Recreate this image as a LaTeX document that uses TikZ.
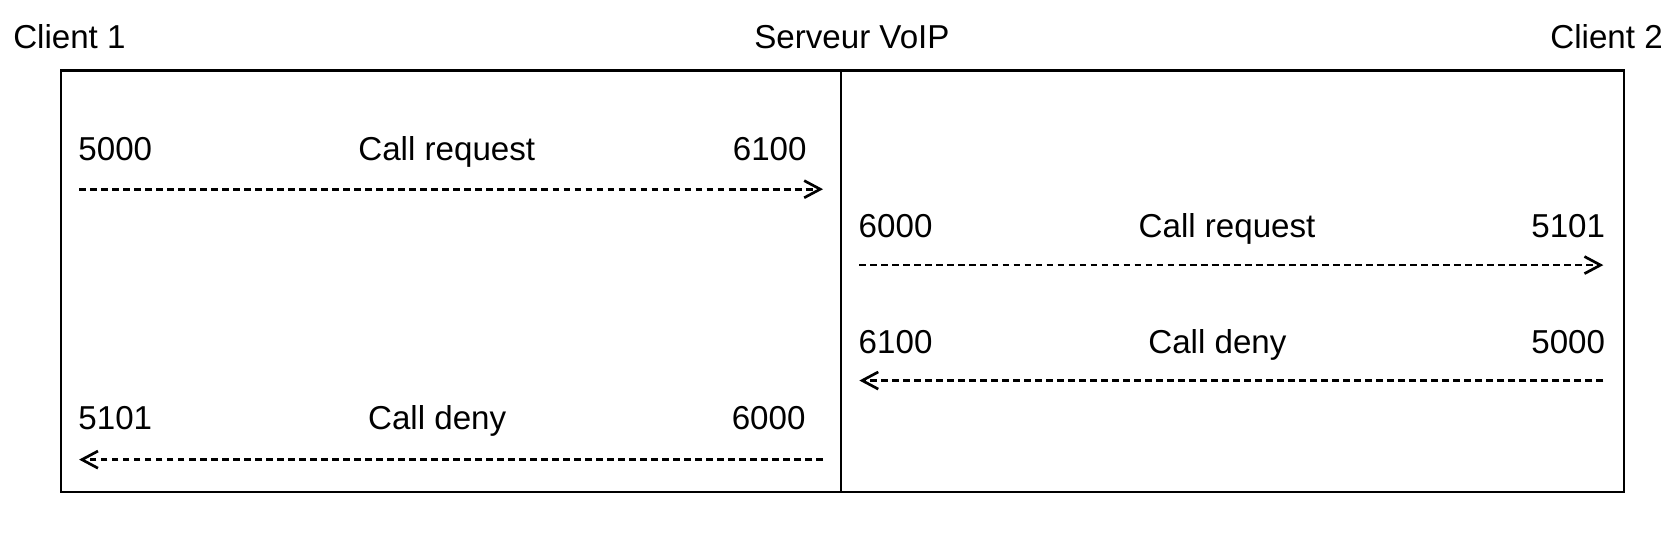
\documentclass[tikz,border=0pt]{standalone}
\usepackage{fontspec}
\setmainfont{Liberation Sans}
\usetikzlibrary{arrows.meta}
\begin{document}
\begin{tikzpicture}[x=0.5pt,y=-0.5pt,
  lbl/.style={inner sep=0pt,font=\fontsize{15.5}{18}\selectfont},
  frame/.style={line width=1pt,draw=black},
  msg/.style={line width=1.25pt,dash pattern=on 3.2pt off 1.95pt,
    -{Straight Barb[length=7.5pt,width=8pt,line width=1.25pt]}}]
\useasboundingbox (0,0) rectangle (1568,498.6);
% titles
\node[lbl,anchor=base west] (c1) at (12,45) {Client 1};
\node[lbl,anchor=base] (srv) at (797,45) {Serveur VoIP};
\node[lbl,anchor=base east] (c2) at (1556,45) {Client 2};
% frame
\draw[frame] (57,66) rectangle (1519,460);
\draw[frame] (787,66) -- (787,460);
% row 1
\node[lbl,anchor=base west] (a1) at (73,150) {5000};
\node[lbl,anchor=base] (m1) at (418,150) {Call request};
\node[lbl,anchor=base east] (b1) at (755,150) {6100};
\coordinate (s1) at (74,177); \coordinate (e1) at (770,177);
\draw[msg] (s1) -- (e1);
% row 2
\node[lbl,anchor=base west] (a2) at (803,222) {6000};
\node[lbl,anchor=base] (m2) at (1148,222) {Call request};
\node[lbl,anchor=base east] (b2) at (1502,222) {5101};
\coordinate (s2) at (804,248); \coordinate (e2) at (1500,248);
\draw[msg] (s2) -- (e2);
% row 3
\node[lbl,anchor=base west] (a3) at (803,331) {6100};
\node[lbl,anchor=base] (m3) at (1139,331) {Call deny};
\node[lbl,anchor=base east] (b3) at (1502,331) {5000};
\coordinate (s3) at (1500,356); \coordinate (e3) at (804,356);
\draw[msg] (s3) -- (e3);
% row 4
\node[lbl,anchor=base west] (a4) at (73,402) {5101};
\node[lbl,anchor=base] (m4) at (409,402) {Call deny};
\node[lbl,anchor=base east] (b4) at (754,402) {6000};
\coordinate (s4) at (770,430); \coordinate (e4) at (74,430);
\draw[msg] (s4) -- (e4);
\end{tikzpicture}
\end{document}
